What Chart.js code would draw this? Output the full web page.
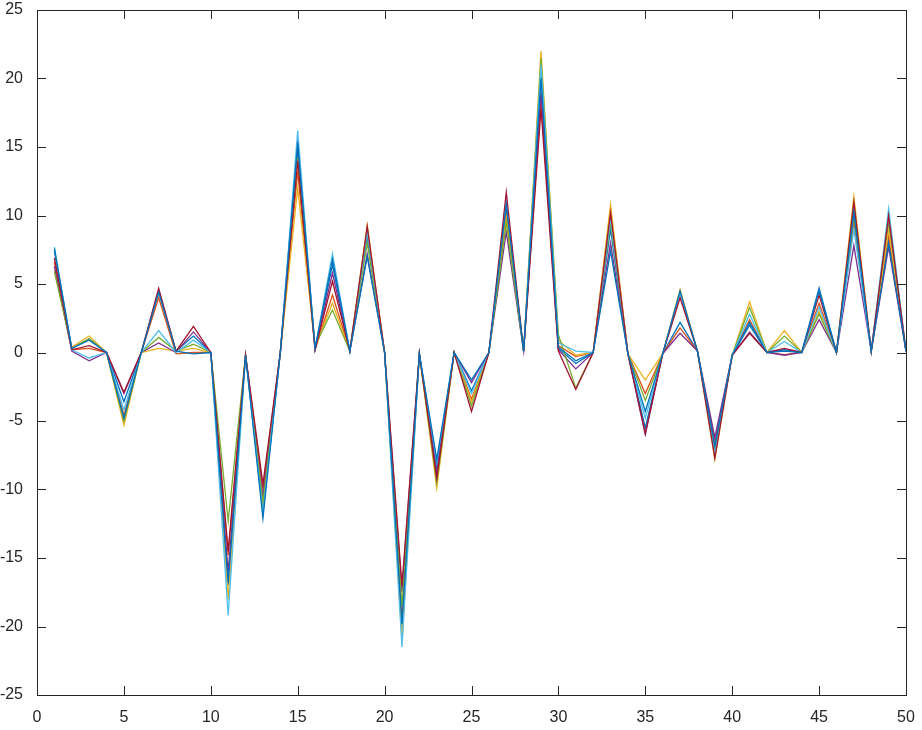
<!DOCTYPE html>
<html>
<head>
<meta charset="utf-8">
<script src="https://cdn.jsdelivr.net/npm/chart.js@4.4.1/dist/chart.umd.min.js"></script>
<style>
  html, body { margin: 0; padding: 0; background: #fff; }
  #wrap { width: 922px; height: 730px; }
</style>
</head>
<body>
<div id="wrap"><canvas id="chart" width="922" height="730"></canvas></div>
<script>
// x positions 1..50
const xValues = [1,2,3,4,5,6,7,8,9,10,11,12,13,14,15,16,17,18,19,20,21,22,23,24,25,
                 26,27,28,29,30,31,32,33,34,35,36,37,38,39,40,41,42,43,44,45,46,47,48,49,50];

const xTicks = [0, 5, 10, 15, 20, 25, 30, 35, 40, 45, 50];
const yTicks = [-25, -20, -15, -10, -5, 0, 5, 10, 15, 20, 25];

// series values, one per line colour
const seriesBlueA = [7.4,0.3,1.0,0,-3.6,0,4.5,0.1,1.2,0,-17.0,-0.2,-11.5,0,14.8,0.3,6.4,0.1,8.4,0,
  -20.2,-0.1,-8.4,0,-2.8,0,10.5,0.1,20.5,0.3,-0.8,0,9.0,-0.1,-5.5,-0.1,2.2,0.1,-7.0,-0.2,
  2.0,0,0.2,0,4.7,0,10.5,0.1,9.5,0.1];
const seriesOrange = [6.6,0.2,0.3,0,-4.6,0,4.0,-0.1,0.0,0,-14.8,-0.2,-10.0,0,13.2,0.2,4.2,0.1,9.0,0,
  -19.5,-0.1,-9.0,0,-3.4,0,10.0,0.1,18.5,0.5,-0.3,0,10.5,-0.1,-3.0,-0.1,1.8,0.1,-6.5,-0.2,
  2.4,0,-0.15,0,3.6,0,9.5,0.1,8.5,0.1];
const seriesYellow = [6.0,0.4,1.2,0,-5.3,0,0.3,0.1,0.3,0,-18.0,-0.2,-10.8,0,12.0,0.4,3.6,0.1,9.3,0,
  -21.0,-0.1,-9.9,0,-3.6,0,9.8,0.1,22.0,0.9,-0.2,0,10.8,-0.1,-2.0,-0.1,4.6,0.1,-7.8,-0.2,
  3.7,0,1.6,0,3.0,0,11.4,0.1,9.0,0.1];
const seriesPurple = [6.3,0.1,-0.6,0,-3.0,0,0.7,0.0,1.5,0,-16.0,-0.2,-10.5,0,15.5,0.2,5.8,0.1,7.2,0,
  -17.5,-0.1,-8.8,0,-2.2,0,8.8,0.1,19.0,0.2,-1.2,0,8.0,-0.1,-6.0,-0.1,1.4,0.1,-6.2,-0.2,
  1.5,0,-0.2,0,2.4,0,7.8,0.1,7.7,0.1];
const seriesGreen = [5.9,0.3,1.0,0,-5.0,0,1.1,0.1,0.6,0,-12.3,-0.2,-11.0,0,14.2,0.5,3.1,0.1,8.0,0,
  -18.5,-0.1,-9.5,0,-3.9,0,9.5,0.1,21.5,1.3,-2.6,0,9.5,-0.1,-3.5,-0.1,4.4,0.1,-7.2,-0.2,
  3.3,0,1.2,0,2.8,0,10.0,0.1,9.8,0.1];
const seriesLightBlue = [7.7,0.2,-0.4,0,-4.2,0,1.6,0.0,0.9,0,-19.2,-0.2,-11.8,0,16.2,0.3,7.2,0.1,8.8,0,
  -21.5,-0.1,-8.0,0,-3.0,0,11.0,0.1,21.0,0.7,0.1,0,9.8,-0.1,-4.8,-0.1,4.3,0.1,-7.4,-0.2,
  2.8,0,0.8,0,3.3,0,9.0,0.1,10.5,0.1];
const seriesRed = [6.9,0.2,0.5,0,-2.9,0,4.7,0.1,1.9,0,-14.5,-0.2,-9.6,0,14.0,0.2,5.2,0.1,9.2,0,
  -17.0,-0.1,-9.2,0,-4.3,0,11.7,0.1,17.8,0.1,-2.7,0,10.2,-0.1,-5.9,-0.1,4.0,0.1,-7.7,-0.2,
  1.4,0,0.3,0,4.2,0,11.0,0.1,10.0,0.1];
const seriesBlueB = [7.6,0.3,0.9,0,-4.8,0,4.4,0.1,-0.1,0,-16.8,-0.2,-12.1,0,15.3,0.3,6.8,0.1,7.0,0,
  -19.8,-0.1,-7.8,0,-2.0,0,10.8,0.1,20.0,0.4,-0.6,0,7.4,-0.1,-4.3,-0.1,4.5,0.1,-6.8,-0.2,
  2.2,0,0.1,0,4.5,0,10.2,0.1,8.0,0.1];

// matlab default colour order; the last line drawn ends up on top
const lines = [
  { data: seriesBlueA, color: '#0072BD' },
  { data: seriesOrange, color: '#D95319' },
  { data: seriesYellow, color: '#EDB120' },
  { data: seriesPurple, color: '#7E2F8E' },
  { data: seriesGreen, color: '#77AC30' },
  { data: seriesLightBlue, color: '#4DBEEE' },
  { data: seriesRed, color: '#A2142F' },
  { data: seriesBlueB, color: '#0072BD' }
];

// chart.js paints dataset 0 last, so reverse to keep matlab stacking
const datasets = lines.slice().reverse().map(l => ({
  data: xValues.map((x, i) => ({ x: x, y: l.data[i] })),
  borderColor: l.color,
  borderWidth: 1.3,
  pointRadius: 0,
  tension: 0,
  fill: false
}));

const axisColor = '#262626';
const tickLen = 9;

// box around the axes with inward ticks on every side
const boxTicks = {
  id: 'boxTicks',
  afterDraw(chart) {
    const ctx = chart.ctx;
    const a = chart.chartArea;
    const xs = chart.scales.x;
    const ys = chart.scales.y;
    ctx.save();
    ctx.strokeStyle = axisColor;
    ctx.lineWidth = 1;
    ctx.strokeRect(Math.round(a.left) + 0.5, Math.round(a.top) + 0.5,
      Math.round(a.right - a.left), Math.round(a.bottom - a.top));
    ctx.beginPath();
    xTicks.forEach(v => {
      const px = Math.round(xs.getPixelForValue(v)) + 0.5;
      ctx.moveTo(px, a.bottom); ctx.lineTo(px, a.bottom - tickLen);
      ctx.moveTo(px, a.top); ctx.lineTo(px, a.top + tickLen);
    });
    yTicks.forEach(v => {
      const py = Math.round(ys.getPixelForValue(v)) + 0.5;
      ctx.moveTo(a.left, py); ctx.lineTo(a.left + tickLen, py);
      ctx.moveTo(a.right, py); ctx.lineTo(a.right - tickLen, py);
    });
    ctx.stroke();
    ctx.restore();
  }
};

new Chart(document.getElementById('chart'), {
  type: 'line',
  data: { datasets },
  options: {
    responsive: false,
    animation: false,
    layout: { padding: { top: 10, right: 16, left: 0, bottom: 0 } },
    plugins: {
      legend: { display: false },
      tooltip: { enabled: false }
    },
    scales: {
      x: {
        type: 'linear',
        min: 0,
        max: 50,
        afterBuildTicks: s => { s.ticks = xTicks.map(v => ({ value: v })); },
        afterFit: s => { s.height = 35; s.paddingLeft = 0; s.paddingRight = 0; },
        grid: { display: false },
        border: { display: false },
        ticks: {
          color: axisColor,
          padding: 5,
          maxRotation: 0,
          font: { family: 'Liberation Sans, Arial, sans-serif', size: 16 }
        }
      },
      y: {
        type: 'linear',
        min: -25,
        max: 25,
        afterBuildTicks: s => { s.ticks = yTicks.map(v => ({ value: v })); },
        afterFit: s => { s.width = 37; s.paddingTop = 0; s.paddingBottom = 0; },
        grid: { display: false },
        border: { display: false },
        ticks: {
          color: axisColor,
          padding: 6,
          font: { family: 'Liberation Sans, Arial, sans-serif', size: 16 }
        }
      }
    }
  },
  plugins: [boxTicks]
});
</script>
</body>
</html>
